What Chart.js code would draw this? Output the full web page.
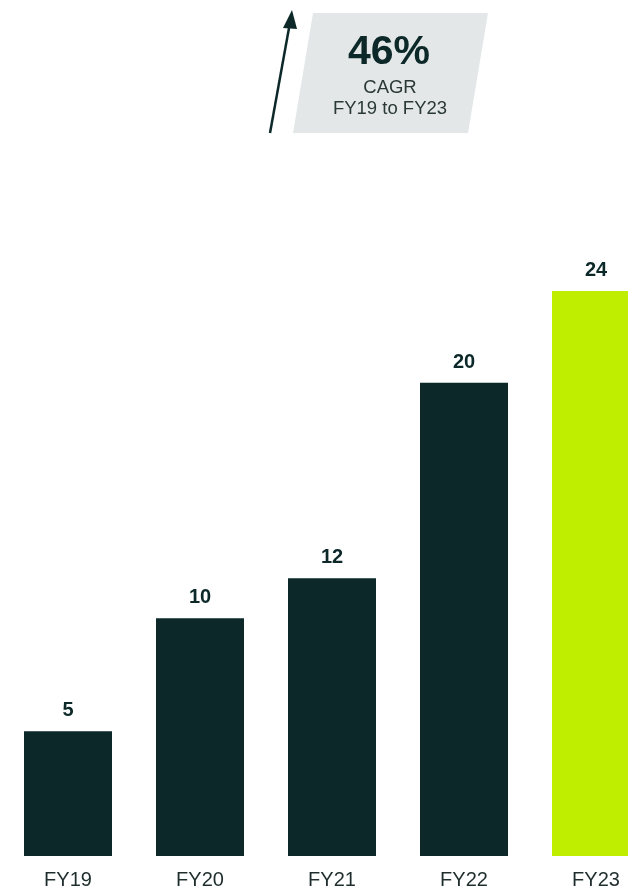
<!DOCTYPE html>
<html>
<head>
<meta charset="utf-8">
<script src="https://cdn.jsdelivr.net/npm/chart.js@4/dist/chart.umd.min.js"></script>
<style>
  html, body { margin: 0; padding: 0; background: #ffffff; overflow: hidden; width: 628px; height: 889px; }
  #wrap { position: absolute; left: 0; top: 0; width: 664px; height: 912px; }
  #ann { position: absolute; left: 0; top: 0; width: 628px; height: 150px; }
</style>
</head>
<body>
<script>
// ---- data ----
const categories = ['FY19', 'FY20', 'FY21', 'FY22', 'FY23'];
const revenue = [5.3, 10.1, 11.8, 20.1, 24.0];          // bar heights
const revenueLabels = ['5', '10', '12', '20', '24'];    // printed values
const barColors = ['#0c2828', '#0c2828', '#0c2828', '#0c2828', '#bfee00'];
const cagrText = ['46%', 'CAGR', 'FY19 to FY23'];
</script>
<div id="wrap"><canvas id="c" width="664" height="912"></canvas></div>
<svg id="ann" width="628" height="150" xmlns="http://www.w3.org/2000/svg">
  <polygon points="313,13 488,13 468,133 293,133" fill="#e3e7e7"/>
  <line x1="270" y1="133" x2="289" y2="28" stroke="#0c2828" stroke-width="2.5"/>
  <polygon points="292,10 283,28 297,29" fill="#0c2828"/>
  <text id="t1" x="389" y="64" text-anchor="middle" font-family="Liberation Sans, Arial, sans-serif" font-weight="bold" font-size="41" fill="#0c2828"></text>
  <text id="t2" x="390" y="93" text-anchor="middle" font-family="Liberation Sans, Arial, sans-serif" font-size="18.5" fill="#2b3838"></text>
  <text id="t3" x="390" y="114" text-anchor="middle" font-family="Liberation Sans, Arial, sans-serif" font-size="18.5" fill="#2b3838"></text>
</svg>
<script>
document.getElementById('t1').textContent = cagrText[0];
document.getElementById('t2').textContent = cagrText[1];
document.getElementById('t3').textContent = cagrText[2];

const valueLabelPlugin = {
  id: 'valueLabels',
  afterDatasetsDraw(chart) {
    const ctx = chart.ctx;
    const meta = chart.getDatasetMeta(0);
    ctx.save();
    ctx.font = 'bold 20px "Liberation Sans", Arial, sans-serif';
    ctx.fillStyle = '#0c2828';
    ctx.textAlign = 'center';
    ctx.textBaseline = 'alphabetic';
    meta.data.forEach((bar, i) => {
      ctx.fillText(revenueLabels[i], bar.x, bar.y - 15);
    });
    ctx.restore();
  }
};

new Chart(document.getElementById('c'), {
  type: 'bar',
  data: {
    labels: categories,
    datasets: [{
      data: revenue,
      backgroundColor: barColors,
      borderWidth: 0,
      categoryPercentage: 88 / 132,
      barPercentage: 1
    }]
  },
  options: {
    responsive: false,
    animation: false,
    layout: { padding: { left: 2, right: 2, top: 291, bottom: 8 } },
    plugins: { legend: { display: false }, tooltip: { enabled: false } },
    scales: {
      x: {
        grid: { display: false, drawTicks: false, tickLength: 0 },
        border: { display: false },
        ticks: {
          padding: 12,
          color: '#1f2d2d',
          font: { family: '"Liberation Sans", Arial, sans-serif', size: 20 }
        }
      },
      y: { display: false, min: 0, max: 24 }
    }
  },
  plugins: [valueLabelPlugin]
});
</script>
</body>
</html>
